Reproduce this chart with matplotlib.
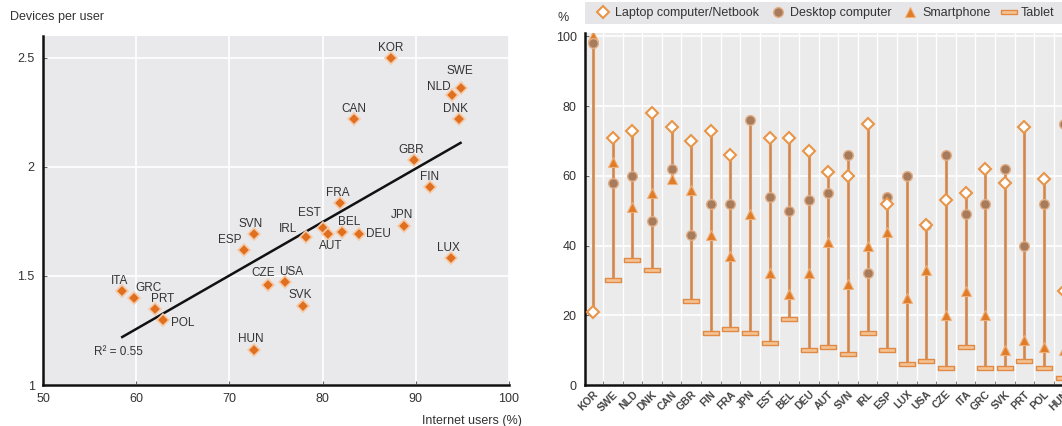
import numpy as np
import matplotlib
matplotlib.use("Agg")
import matplotlib.pyplot as plt
from matplotlib.lines import Line2D
from matplotlib.patches import Rectangle

plt.rcParams['font.family'] = ['Liberation Sans', 'DejaVu Sans']

# left panel: internet users vs devices per user
codes = ['KOR', 'SWE', 'NLD', 'CAN', 'DNK', 'GBR', 'FIN', 'FRA', 'EST', 'AUT',
         'BEL', 'DEU', 'JPN', 'LUX', 'SVN', 'IRL', 'ESP', 'CZE', 'USA', 'SVK',
         'ITA', 'GRC', 'PRT', 'POL', 'HUN']
internet_users = [87.3, 94.8, 93.9, 83.4, 94.6, 89.8, 91.5, 81.9, 80.0, 80.6,
                  82.1, 83.9, 88.7, 93.8, 72.6, 78.2, 71.6, 74.1, 76.0, 77.9,
                  58.5, 59.8, 62.0, 62.9, 72.6]
devices_per_user = [2.50, 2.36, 2.33, 2.22, 2.22, 2.03, 1.91, 1.835, 1.72, 1.69,
                    1.70, 1.69, 1.73, 1.58, 1.69, 1.68, 1.62, 1.46, 1.47, 1.36,
                    1.43, 1.40, 1.35, 1.30, 1.16]
trend_x = [58.5, 94.8]
trend_y = [1.22, 2.11]
x_ticks = [50, 60, 70, 80, 90, 100]

# right panel: share of users per device
countries = ['KOR', 'SWE', 'NLD', 'DNK', 'CAN', 'GBR', 'FIN', 'FRA', 'JPN', 'EST',
             'BEL', 'DEU', 'AUT', 'SVN', 'IRL', 'ESP', 'LUX', 'USA', 'CZE', 'ITA',
             'GRC', 'SVK', 'PRT', 'POL', 'HUN']
nan = np.nan
laptop = [21, 71, 73, 78, 74, 70, 73, 66, nan, 71, 71, 67, 61, 60, 75, 52, nan, 46,
          53, 55, 62, 58, 74, 59, 27]
desktop = [98, 58, 60, 47, 62, 43, 52, 52, 76, 54, 50, 53, 55, 66, 32, 54, 60, 46,
           66, 49, 52, 62, 40, 52, 75]
smartphone = [100, 64, 51, 55, 59, 56, 43, 37, 49, 32, 26, 32, 41, 29, 40, 44, 25, 33,
              20, 27, 20, 10, 13, 11, 10]
tablet = [nan, 30, 36, 33, nan, 24, 15, 16, 15, 12, 19, 10, 11, 9, 15, 10, 6, 7,
          5, 11, 5, 5, 7, 5, 2]

# label offsets in pixels (dx, dy) for the scatter
offsets = {
    'KOR': (0, 10), 'SWE': (-1, 17), 'NLD': (-13, 8), 'CAN': (0, 10), 'DNK': (-3, 10),
    'GBR': (-3, 10), 'FIN': (0, 10), 'FRA': (-2, 10), 'EST': (-13, 15), 'AUT': (3, -12),
    'BEL': (7, 10), 'DEU': (19, 0), 'JPN': (-2, 11), 'LUX': (-3, 10), 'SVN': (-3, 10),
    'IRL': (-18, 8), 'ESP': (-15, 10), 'CZE': (-4, 12), 'USA': (6, 10), 'SVK': (-3, 11),
    'ITA': (-3, 10), 'GRC': (14, 10), 'PRT': (8, 10), 'POL': (19, -3), 'HUN': (-3, 11),
}

W, H = 1062, 426
fig = plt.figure(figsize=(W / 100, H / 100), dpi=100)

orange = '#E0701F'
bg = '#E9E9EB'
txt = '#333333'

# ---------- left panel
ax1 = fig.add_axes([43 / W, 41 / H, 466 / W, 349 / H])
ax1.set_facecolor(bg)
ax1.set_xlim(50, 100)
ax1.set_ylim(1, 2.6)
ax1.set_xticks(x_ticks)
ax1.set_xticklabels([str(v) for v in x_ticks])
ax1.set_yticks([1, 1.5, 2, 2.5])
ax1.set_yticklabels(['1', '1.5', '2', '2.5'])
ax1.grid(True, color='white', lw=1.2)
ax1.set_axisbelow(True)
for s in ['top', 'right']:
    ax1.spines[s].set_visible(False)
for s in ['left', 'bottom']:
    ax1.spines[s].set_linewidth(1.8)
    ax1.spines[s].set_color('#111111')
ax1.tick_params(direction='in', length=3, color='#666666', labelsize=9, labelcolor=txt, pad=6)

ax1.plot(trend_x, trend_y, color='#111111', lw=1.8, zorder=2)
ax1.plot(internet_users, devices_per_user, ls='none', marker='D', ms=6.5,
         color=orange, mec='#F6C9A8', mew=1.2, zorder=3)
for c, xv, yv in zip(codes, internet_users, devices_per_user):
    dx, dy = offsets[c]
    ax1.annotate(c, (xv, yv), xytext=(dx, dy), textcoords='offset pixels',
                 ha='center', va='center', fontsize=8.5, color=txt, zorder=4)
ax1.text(58.1, 1.15, 'R² = 0.55', fontsize=8.5, color=txt, ha='center', va='center')

fig.text(10 / W, 1 - 17 / H, 'Devices per user', fontsize=9, color=txt, va='center')
fig.text(522 / W, 1 - 421 / H, 'Internet users (%)', fontsize=9, color=txt,
         ha='right', va='center')

# ---------- right panel
ax2 = fig.add_axes([585 / W, 41 / H, 489 / W, 352 / H])
ax2.set_facecolor('#EBEBEB')
x = np.arange(len(countries))
ax2.set_xlim(-0.42, 24.53)
ax2.set_ylim(0, 101)
ax2.set_yticks([0, 20, 40, 60, 80, 100])
ax2.set_xticks(x)
ax2.set_xticklabels(countries, rotation=45, ha='right', va='top',
                    rotation_mode='anchor', fontsize=7.5, fontweight='bold', color='#444444')
ax2.set_xticks(x[:-1] + 0.5, minor=True)
ax2.tick_params(axis='x', which='major', length=0, pad=3)
ax2.tick_params(axis='x', which='minor', direction='in', length=3, color='#666666')
ax2.tick_params(axis='y', direction='in', length=3, color='#666666', labelsize=9,
                labelcolor=txt, pad=6)
ax2.grid(True, axis='y', color='white', lw=1.2)
ax2.grid(True, axis='x', which='minor', color='white', lw=1.0)
ax2.set_axisbelow(True)
for s in ['top', 'right']:
    ax2.spines[s].set_visible(False)
for s in ['left', 'bottom']:
    ax2.spines[s].set_linewidth(1.8)
    ax2.spines[s].set_color('#111111')

vals = np.array([laptop, desktop, smartphone, tablet], dtype=float)
lo = np.nanmin(vals, axis=0)
hi = np.nanmax(vals, axis=0)
ax2.vlines(x, lo, hi, color='#E3965A', lw=2.2, zorder=2)
ax2.vlines(x, lo, hi, color='#B98A68', lw=0.6, zorder=2)

rect = [(-1, -0.28), (1, -0.28), (1, 0.28), (-1, 0.28), (-1, -0.28)]
tab_style = dict(ls='none', marker=rect, ms=12, mfc='#F4C393', mec='#E08A45', mew=1.0)
lap_style = dict(ls='none', marker='D', ms=6.5, mfc='white', mec='#E8954A', mew=1.5)
desk_style = dict(ls='none', marker='o', ms=7, mfc='#A67C5C', mec='#E2AE86', mew=1.0)
smart_style = dict(ls='none', marker='^', ms=6.5, mfc='#E07B28', mec='#F0B07A', mew=0.8)

ax2.plot(x, tablet, zorder=3, **tab_style)
ax2.plot(x, smartphone, zorder=4, **smart_style)
ax2.plot(x, desktop, zorder=5, **desk_style)
ax2.plot(x, laptop, zorder=6, **lap_style)

fig.text(563 / W, 1 - 18 / H, '%', fontsize=9, color=txt, ha='center', va='center')

# legend strip
fig.patches.append(Rectangle((585 / W, 1 - 24 / H), (W - 585) / W, 22 / H,
                             transform=fig.transFigure, facecolor='#E6E6E8',
                             edgecolor='none', zorder=0))
handles = [Line2D([], [], **lap_style), Line2D([], [], **desk_style),
           Line2D([], [], **smart_style), Line2D([], [], **tab_style)]
labels = ['Laptop computer/Netbook', 'Desktop computer', 'Smartphone', 'Tablet']
fig.legend(handles, labels, loc='center left', bbox_to_anchor=(597 / W, 1 - 13 / H),
           ncol=4, frameon=False, fontsize=9, handlelength=1.0, handletextpad=0.45,
           columnspacing=1.0, borderaxespad=0, borderpad=0, labelcolor=txt)

fig.savefig('out.png', dpi=100)
